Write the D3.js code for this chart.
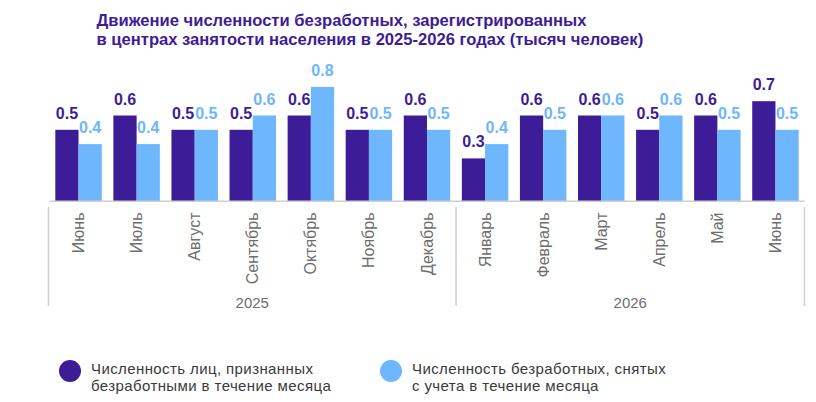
<!DOCTYPE html>
<html><head><meta charset="utf-8">
<script src="https://cdn.jsdelivr.net/npm/d3@7"></script>
<style>body{margin:0;background:#fff;} svg{display:block;font-family:"Liberation Sans",Arial,sans-serif;}</style>
</head><body>
<svg id="c" width="816" height="402"></svg>
<script>
const months = ["Июнь","Июль","Август","Сентябрь","Октябрь","Ноябрь","Декабрь","Январь","Февраль","Март","Апрель","Май","Июнь"];
const years = ["2025","2026"];
const yearCounts = [7, 6];
const recognized = [0.5,0.6,0.5,0.5,0.6,0.5,0.6,0.3,0.6,0.6,0.5,0.6,0.7];
const removed = [0.4,0.4,0.5,0.6,0.8,0.5,0.5,0.4,0.5,0.6,0.6,0.5,0.5];
const seriesNames = [["Численность лиц, признанных","безработными в течение месяца"],["Численность безработных, снятых","с учета в течение месяца"]];
const title = ["Движение численности безработных, зарегистрированных","в центрах занятости населения в 2025-2026 годах (тысяч человек)"];
const colors = ["#3d1c98","#6eb6fd"];

const svg = d3.select("#c");
const idx = months.map((m,i)=>i);
const x = d3.scaleBand().domain(idx).range([49.5,804.5]).paddingInner(0.2).paddingOuter(0.1);
const x1 = d3.scaleBand().domain([0,1]).range([0,x.bandwidth()]);
const y = d3.scaleLinear().domain([0,1]).range([201.3,58.3]);

// title
svg.append("g").selectAll("text").data(title).join("text")
  .attr("x",96.5).attr("y",(d,i)=>25.7+i*18.8)
  .attr("font-size",16.6).attr("font-weight","bold").attr("fill","#3d1c98").text(d=>d);

const series = [recognized, removed];
series.forEach((vals,s)=>{
  const g = svg.append("g");
  g.selectAll("rect").data(vals).join("rect")
    .attr("x",(d,i)=>x(i)+x1(s)).attr("width",x1.bandwidth())
    .attr("y",d=>y(d)).attr("height",d=>y(0)-y(d)).attr("fill",colors[s]);
  g.selectAll("text").data(vals).join("text")
    .attr("x",(d,i)=>x(i)+x1(s)+x1.bandwidth()/2).attr("y",d=>y(d)-11)
    .attr("text-anchor","middle").attr("font-size",16).attr("font-weight","bold")
    .attr("fill",colors[s]).text(d=>d.toFixed(1));
});

// axis line
svg.append("line").attr("x1",x.range()[0]).attr("x2",x.range()[1]).attr("y1",y(0)).attr("y2",y(0))
  .attr("stroke","#cfcfcf").attr("stroke-width",1.5);

// month labels
svg.append("g").selectAll("text").data(months).join("text")
  .attr("transform",(d,i)=>`translate(${x(i)+x.bandwidth()/2+5.5},212.5) rotate(-90)`)
  .attr("text-anchor","end").attr("font-size",16).attr("fill","#6e6e6e").text(d=>d);

// year groups
let start = 0;
const bounds = [x.range()[0]-1];
yearCounts.forEach(c=>{ start += c; bounds.push(start < months.length ? (x(start-1)+x.bandwidth()+x(start))/2 : x.range()[1]); });
svg.append("g").selectAll("line").data(bounds).join("line")
  .attr("x1",d=>d).attr("x2",d=>d).attr("y1",207).attr("y2",306)
  .attr("stroke","#cfcfcf").attr("stroke-width",1.5);
svg.append("g").selectAll("text").data(years).join("text")
  .attr("x",(d,i)=>(bounds[i]+bounds[i+1])/2).attr("y",307.5)
  .attr("text-anchor","middle").attr("font-size",15).attr("fill","#6e6e6e").text(d=>d);

// legend
const lg = svg.append("g");
const lx = [70, 391];
seriesNames.forEach((lines,s)=>{
  lg.append("circle").attr("cx",lx[s]).attr("cy",371).attr("r",11).attr("fill",colors[s]);
  lg.append("g").selectAll("text").data(lines).join("text")
    .attr("x",lx[s]+21).attr("y",(d,i)=>374+i*16.5)
    .attr("font-size",15).attr("letter-spacing",0.4).attr("fill","#3a3a3a").text(d=>d);
});
</script>
</body></html>
